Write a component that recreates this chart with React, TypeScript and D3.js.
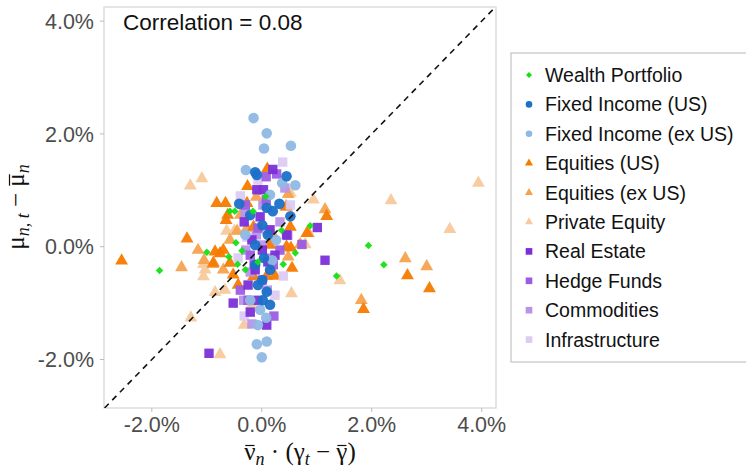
import React from "react";
import * as d3 from "d3";

const W = 746, H = 475;
const P = { l: 104, t: 7, r: 496, b: 408 };

const xTicks = [-2, 0, 2, 4];
const yTicks = [-2, 0, 2, 4];
const xDomain: [number, number] = [-2.87, 4.26];
const yDomain: [number, number] = [-2.86, 4.25];
const correlationLabel = "Correlation = 0.08";

const seriesNames = [
  "Wealth Portfolio", "Fixed Income (US)", "Fixed Income (ex US)", "Equities (US)",
  "Equities (ex US)", "Private Equity", "Real Estate", "Hedge Funds", "Commodities", "Infrastructure",
];

const wealthPortfolio = [
  [-1.86, -0.42], [-1.0, -0.1], [-0.58, 0.63], [-0.49, 0.63], [-0.16, 0.63], [0.07, 0.89],
  [-0.47, 0.07], [-0.36, -0.07], [-0.44, -0.31], [-0.3, -0.41], [-0.6, -0.18], [0.36, 0.29],
  [0.88, 0.37], [0.61, -0.11], [0.39, -0.31], [1.36, -0.52], [1.94, 0.02], [2.22, -0.32], [-0.07, -0.27],
];
const fixedIncomeUS = [
  [-0.12, 1.32], [-0.09, 1.27], [0.45, 1.25], [0.32, 0.76], [0.2, 0.63], [0.52, 0.54], [-0.41, 0.76],
  [0.09, 0.69], [-0.21, 0.56], [0.01, 0.38], [0.11, 0.21], [-0.12, 0.03], [0.04, -0.2], [0.15, -0.41],
  [0.01, -0.59], [0.09, -0.8], [0.02, -0.95], [-0.07, -0.68], [0.15, -1.03], [-0.12, -0.32],
];
const fixedIncomeExUS = [
  [-0.15, 2.28], [0.09, 2.01], [0.04, 1.74], [0.53, 1.79], [-0.29, 1.36], [0.37, 1.13], [0.61, 1.09],
  [0.15, 0.92], [-0.07, -1.39], [0.08, -1.26], [-0.03, -1.12], [-0.09, -1.73], [0.09, -1.68],
  [0.0, -1.96], [-0.21, -0.95], [0.19, -0.24], [-0.3, 0.21], [0.26, 0.12],
];
const equitiesUS = [
  [-2.55, -0.25], [-1.36, 0.14], [-0.82, 0.77], [-0.66, 0.77], [-0.26, 1.07], [0.1, 1.38], [-0.62, 0.56],
  [-0.27, 0.77], [-0.15, 0.35], [0.45, 0.71], [0.52, 0.35], [1.18, 0.54], [0.82, 0.24], [0.45, 0.0],
  [0.15, 0.03], [0.53, -0.02], [0.55, -0.38], [0.24, -0.52], [0.09, -0.52], [-0.15, -0.53], [-0.43, -0.68],
  [-0.58, -0.29], [-0.88, -0.29], [-0.76, -0.12], [-0.7, -0.06], [-0.52, -0.5], [2.65, -0.51],
  [3.05, -0.74], [1.85, -1.11], [-0.65, 0.47], [-0.85, -0.09],
];
const equitiesExUS = [
  [-1.46, -0.37], [-1.05, -0.24], [-0.89, -0.31], [-0.7, -0.41], [-0.27, 0.33], [-0.45, 0.28],
  [0.48, 0.93], [0.44, 0.71], [1.15, 0.66], [2.61, -0.21], [3.0, -0.35], [1.81, -0.95], [0.85, 0.24],
  [0.48, -0.18], [0.7, 0.04], [-0.39, 0.56], [0.19, 0.24], [-0.58, 0.12], [-0.1, 0.88], [-1.16, -0.06],
];
const privateEquity = [
  [-1.3, 1.08], [-1.09, 1.21], [0.94, 0.83], [0.52, 0.95], [-0.64, 0.28], [-0.5, 0.28], [3.94, 1.13],
  [2.35, 0.82], [3.42, 0.31], [1.42, -0.6], [-0.76, -1.91], [-1.29, -1.26], [-1.06, -0.31],
  [-1.03, -0.41], [-1.06, -0.53], [0.54, -0.83], [-0.85, -0.81], [-0.67, -0.77], [-0.18, -1.03],
  [0.79, 0.04], [-0.32, -1.39],
];
const realEstate = [
  [-0.96, -1.89], [-0.52, -1.0], [0.09, -1.39], [1.15, -0.24], [1.01, 0.34], [0.2, 1.37], [-0.09, 1.01],
  [0.03, 1.01], [-0.03, 0.53], [-0.18, 0.12], [0.01, -0.06], [0.11, -0.27], [-0.12, -0.41],
  [-0.25, -0.68], [-0.07, -0.95], [0.24, -0.15], [0.45, 0.21], [-0.32, 0.44], [0.15, 0.3], [-0.21, -1.16],
];
const hedgeFunds = [
  [0.08, 1.24], [0.27, 1.29], [0.47, 0.2], [0.73, 0.04], [0.21, -0.32], [0.22, -1.23], [-0.21, -0.15],
  [-0.07, 0.33], [-0.3, 0.74], [0.01, -0.59], [-0.39, -0.77], [0.08, 0.83], [-0.14, -0.32],
  [0.33, -0.06], [-0.25, -0.95],
];
const commodities = [
  [-0.18, -1.37], [-0.33, -0.95], [-0.3, 0.6], [0.01, 0.03], [0.15, -0.2], [-0.1, 0.21], [0.33, 0.44],
  [-0.21, -0.45], [0.1, -0.77], [-0.29, -0.06], [0.02, 0.74], [0.42, 1.04],
];
const infrastructure = [
  [0.38, 1.5], [0.39, -0.52], [-0.27, 0.17], [-0.39, 0.9], [-0.32, -1.23], [0.52, 0.74], [-0.07, 1.18],
  [0.04, 0.3], [-0.43, -0.2], [0.24, -0.86],
];

const seriesData = [
  wealthPortfolio, fixedIncomeUS, fixedIncomeExUS, equitiesUS, equitiesExUS,
  privateEquity, realEstate, hedgeFunds, commodities, infrastructure,
];
const seriesColors = [
  "#14e014", "#1b70c8", "#8fb8e4", "#f57b00", "#f5a24e",
  "#f8c99c", "#7b2fd8", "#9b5ce3", "#b894e8", "#dccbf2",
];
const seriesShapes = [
  "diamond", "circle", "circle", "triangle", "triangle",
  "triangle", "square", "square", "square", "square",
];
const drawOrder = [5, 4, 3, 9, 8, 7, 6, 2, 1, 0];

// axis title pieces: [text, italic, subscript, overline]
const xTitle: [string, boolean, boolean, boolean][] = [
  ["ν", false, false, true], ["n", true, true, false], [" · (γ", false, false, false],
  ["t", true, true, false], [" − ", false, false, false], ["γ", false, false, true], [")", false, false, false],
];
const yTitle: [string, boolean, boolean, boolean][] = [
  ["μ", false, false, false], ["n, t", true, true, false], [" − ", false, false, false],
  ["μ", false, false, true], ["n", true, true, false],
];

function symbolPath(shape: string, big: boolean) {
  if (shape === "circle") return d3.symbol(d3.symbolCircle, big ? 88 : 34)()!;
  if (shape === "triangle") return d3.symbol(d3.symbolTriangle, big ? 72 : 28)()!;
  if (shape === "square") return d3.symbol(d3.symbolSquare, big ? 88 : 44)()!;
  return d3.symbol(d3.symbolSquare, big ? 28 : 18)()!;
}

const SERIF = "'Liberation Serif', 'Times New Roman', serif";
let ctx: CanvasRenderingContext2D | null = null;
function measure(t: string, size: number, italic: boolean) {
  if (!ctx) ctx = document.createElement("canvas").getContext("2d");
  if (!ctx) return t.length * size * 0.5;
  ctx.font = `${italic ? "italic " : ""}${size}px 'Liberation Serif'`;
  return ctx.measureText(t).width;
}

function MathTitle({ pieces, size, subSize }: { pieces: [string, boolean, boolean, boolean][]; size: number; subSize: number }) {
  const widths = pieces.map(([t, it, sub]) => measure(t, sub ? subSize : size, it));
  const total = d3.sum(widths);
  let cx = -total / 2;
  const out: React.ReactNode[] = [];
  pieces.forEach(([t, it, sub, over], i) => {
    const fs = sub ? subSize : size;
    const by = sub ? 5 : 0;
    out.push(
      <text key={"t" + i} x={cx} y={by} fontFamily={SERIF} fontSize={fs} fontStyle={it ? "italic" : "normal"} fill="#111" style={{ whiteSpace: "pre" }}>
        {t}
      </text>
    );
    if (over) {
      out.push(
        <line key={"o" + i} x1={cx + 1} x2={cx + widths[i] - 1} y1={-size * 0.58} y2={-size * 0.58} stroke="#111" strokeWidth={1.2} />
      );
    }
    cx += widths[i];
  });
  return <>{out}</>;
}

export default function App() {
  const x = d3.scaleLinear().domain(xDomain).range([P.l, P.r]);
  const y = d3.scaleLinear().domain(yDomain).range([P.b, P.t]);
  const fmt = (v: number) => d3.format(".1f")(v).replace("−", "-") + "%";
  const lo = Math.max(xDomain[0], yDomain[0]);
  const hi = Math.min(xDomain[1], yDomain[1]);
  const tickColor = "#4d4d4d";
  const sans = "'Liberation Sans', Arial, sans-serif";

  const legendY0 = 75, legendStep = 29.4;

  return (
    <svg width={W} height={H} style={{ position: "absolute", left: 0, top: 0, background: "#fff" }}>
      <rect x={0} y={0} width={W} height={H} fill="#fff" />
      <defs>
        <clipPath id="clip">
          <rect x={P.l} y={P.t} width={P.r - P.l} height={P.b - P.t} />
        </clipPath>
      </defs>
      {/* panel */}
      <rect x={P.l} y={P.t} width={P.r - P.l} height={P.b - P.t} fill="#fff" stroke="#d4d4d4" strokeWidth={1.2} />
      {/* y ticks */}
      {yTicks.map((t) => (
        <g key={"y" + t}>
          <line x1={P.l - 4} x2={P.l} y1={y(t)} y2={y(t)} stroke="#bbb" strokeWidth={1} />
          <text x={P.l - 10} y={y(t)} dy="0.36em" textAnchor="end" fontFamily={sans} fontSize={21.5} fill={tickColor}>
            {fmt(t)}
          </text>
        </g>
      ))}
      {/* x ticks */}
      {xTicks.map((t) => (
        <g key={"x" + t}>
          <line x1={x(t)} x2={x(t)} y1={P.b} y2={P.b + 4} stroke="#bbb" strokeWidth={1} />
          <text x={x(t)} y={P.b + 24} textAnchor="middle" fontFamily={sans} fontSize={21.5} fill={tickColor}>
            {fmt(t)}
          </text>
        </g>
      ))}
      {/* points */}
      <g clipPath="url(#clip)">
        {drawOrder.map((si) =>
          seriesData[si].map((d, i) => (
            <path
              key={si + "-" + i}
              d={symbolPath(seriesShapes[si], true)}
              transform={`translate(${x(d[0])},${y(d[1])})${seriesShapes[si] === "diamond" ? " rotate(45)" : ""}`}
              fill={seriesColors[si]}
              fillOpacity={0.95}
            />
          ))
        )}
        <line x1={x(lo)} y1={y(lo)} x2={x(hi)} y2={y(hi)} stroke="#111" strokeWidth={1.6} strokeDasharray="6,5" />
      </g>
      {/* correlation */}
      <text x={123} y={30} fontFamily={sans} fontSize={22.5} fill="#111">{correlationLabel}</text>
      {/* x axis title */}
      <g transform="translate(300,460)">
        <MathTitle pieces={xTitle} size={25} subSize={18} />
      </g>
      {/* y axis title */}
      <g transform="translate(24,207) rotate(-90)">
        <MathTitle pieces={yTitle} size={25} subSize={18} />
      </g>
      {/* legend */}
      <rect x={511} y={53} width={250} height={309} fill="#fff" stroke="#c4c4c4" strokeWidth={1.2} />
      {seriesNames.map((name, i) => {
        const cy = legendY0 + i * legendStep;
        return (
          <g key={name}>
            <path
              d={symbolPath(seriesShapes[i], false)}
              transform={`translate(529,${cy})${seriesShapes[i] === "diamond" ? " rotate(45)" : ""}`}
              fill={seriesColors[i]}
            />
            <text x={545} y={cy} dy="0.36em" fontFamily={sans} fontSize={19.5} fill="#111">{name}</text>
          </g>
        );
      })}
    </svg>
  );
}
